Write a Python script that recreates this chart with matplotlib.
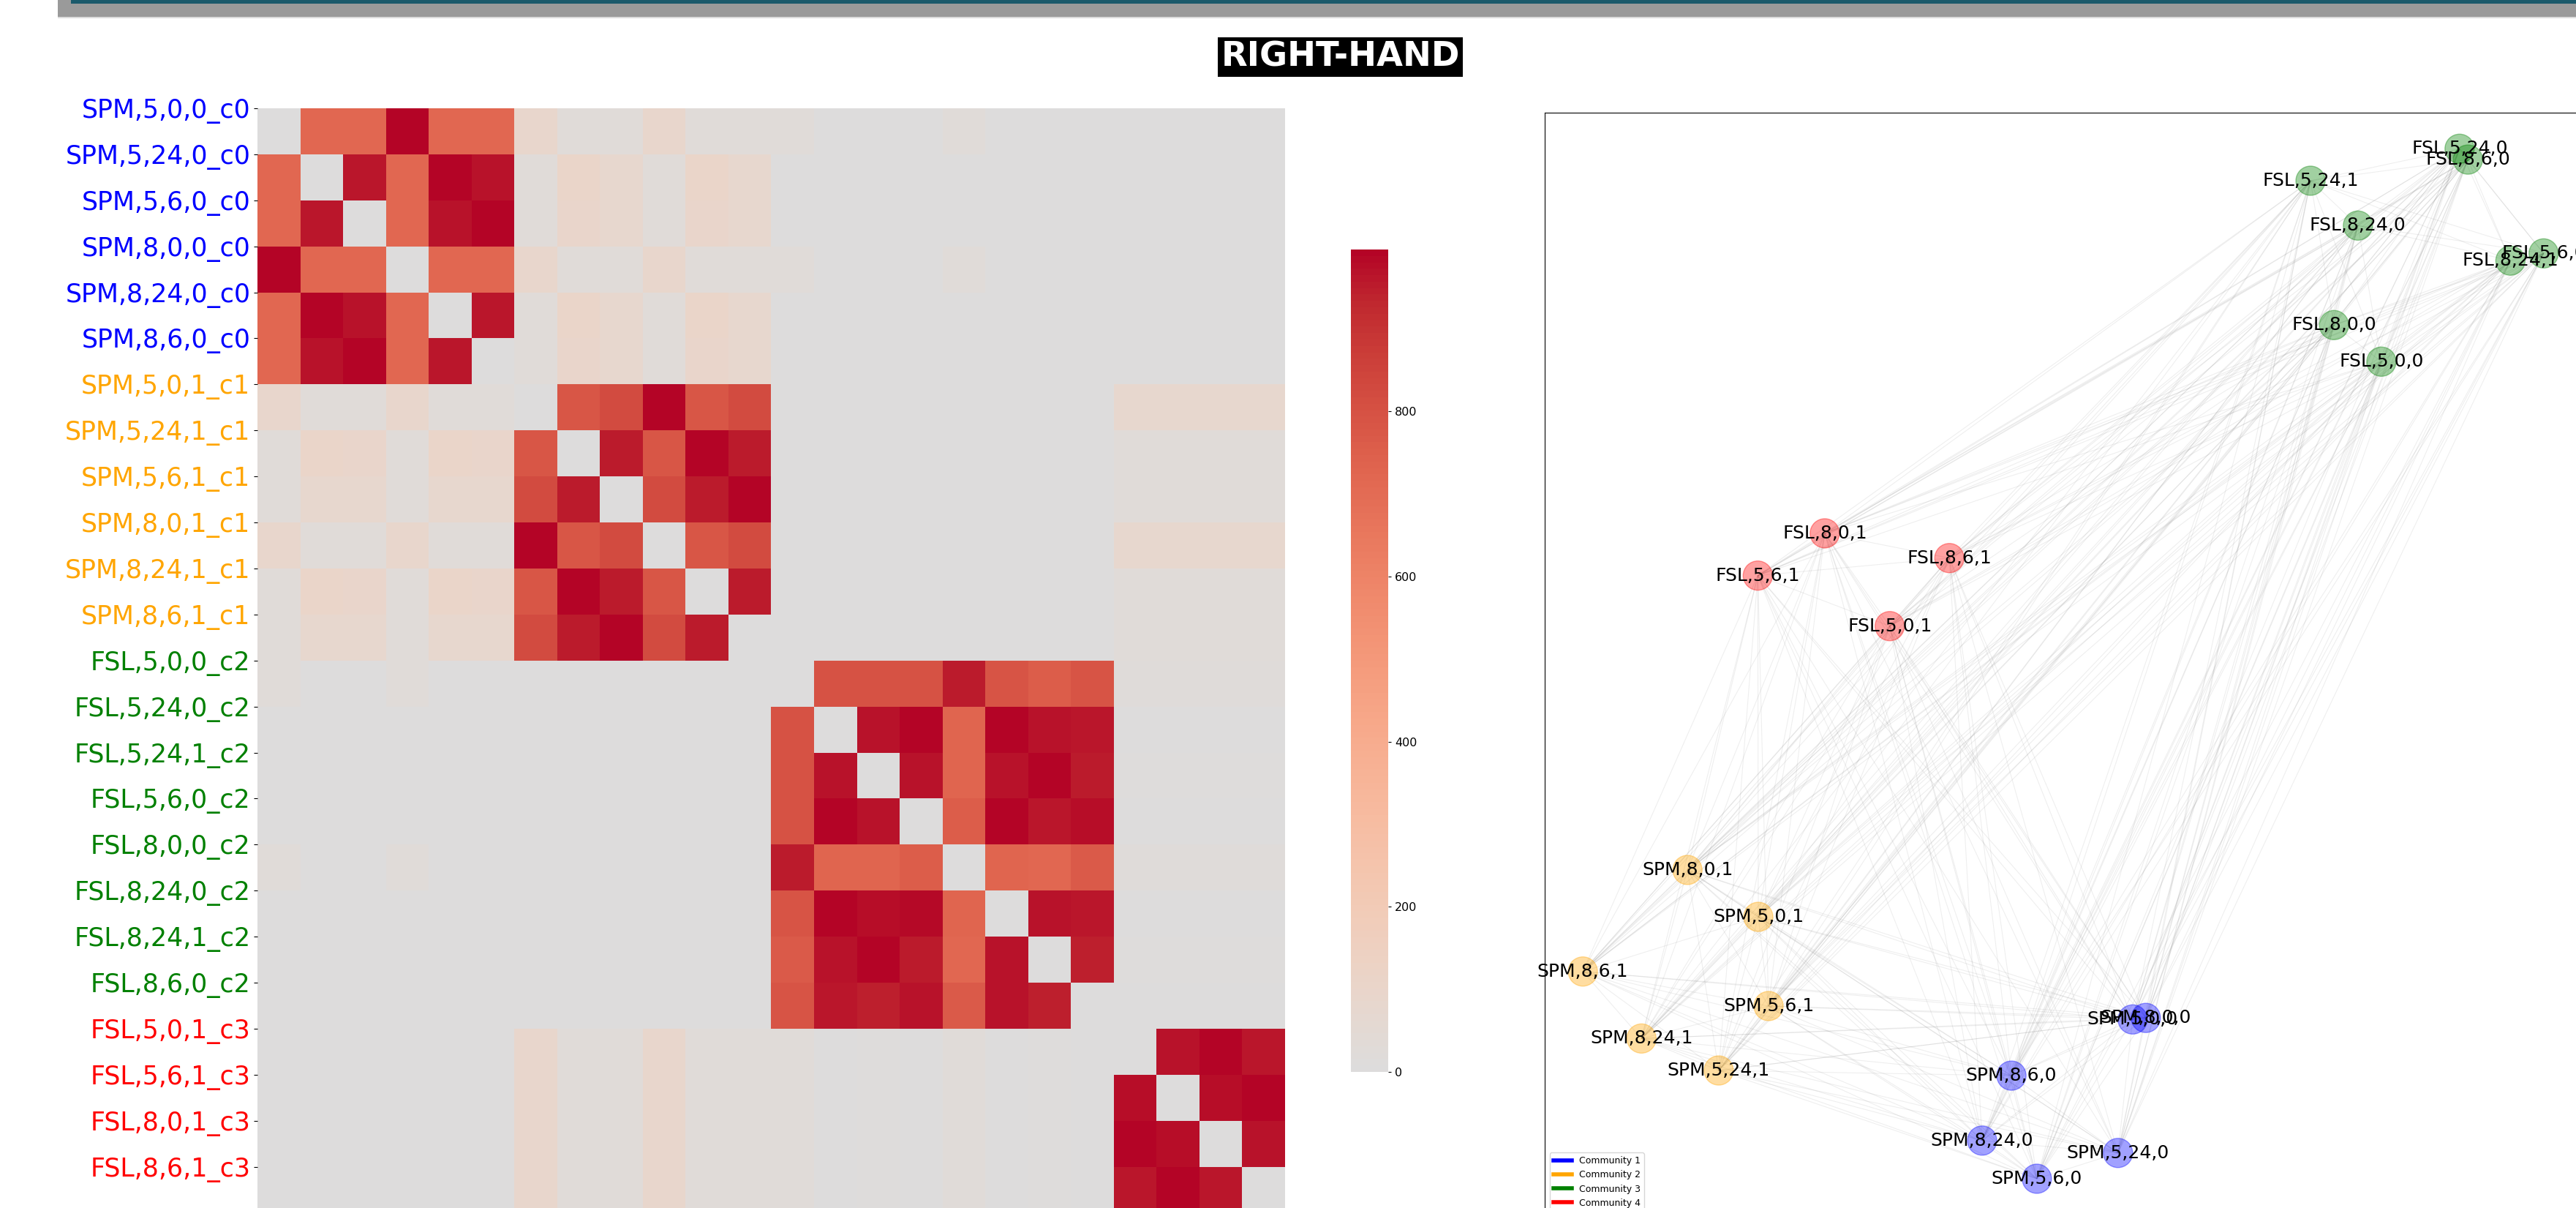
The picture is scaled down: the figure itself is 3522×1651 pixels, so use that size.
import numpy as np
import matplotlib
matplotlib.use("Agg")
import matplotlib.pyplot as plt
from matplotlib.colors import ListedColormap
from matplotlib.collections import LineCollection
from matplotlib.lines import Line2D
from matplotlib.patches import Rectangle
from itertools import combinations

W, H = 3523, 1651

# pipelines, in heatmap order
row_labels = [
    "SPM,5,0,0_c0", "SPM,5,24,0_c0", "SPM,5,6,0_c0", "SPM,8,0,0_c0", "SPM,8,24,0_c0", "SPM,8,6,0_c0",
    "SPM,5,0,1_c1", "SPM,5,24,1_c1", "SPM,5,6,1_c1", "SPM,8,0,1_c1", "SPM,8,24,1_c1", "SPM,8,6,1_c1",
    "FSL,5,0,0_c2", "FSL,5,24,0_c2", "FSL,5,24,1_c2", "FSL,5,6,0_c2", "FSL,8,0,0_c2", "FSL,8,24,0_c2",
    "FSL,8,24,1_c2", "FSL,8,6,0_c2",
    "FSL,5,0,1_c3", "FSL,5,6,1_c3", "FSL,8,0,1_c3", "FSL,8,6,1_c3",
]
row_community = [0] * 6 + [1] * 6 + [2] * 8 + [3] * 4
community_colors = ["blue", "orange", "green", "red"]
community_names = ["Community 1", "Community 2", "Community 3", "Community 4"]

# co-assignment counts (24 x 24)
counts = [
    [0, 720, 720, 996, 720, 720, 90, 30, 30, 90, 30, 30, 30, 0, 0, 0, 30, 0, 0, 0, 0, 0, 0, 0],
    [720, 0, 960, 720, 996, 970, 25, 105, 85, 25, 105, 85, 0, 0, 0, 0, 0, 0, 0, 0, 0, 0, 0, 0],
    [720, 960, 0, 720, 970, 996, 25, 95, 85, 25, 95, 85, 0, 0, 0, 0, 0, 0, 0, 0, 0, 0, 0, 0],
    [996, 720, 720, 0, 720, 720, 90, 30, 30, 90, 30, 30, 30, 0, 0, 0, 30, 0, 0, 0, 0, 0, 0, 0],
    [720, 996, 970, 720, 0, 960, 25, 105, 85, 25, 105, 85, 0, 0, 0, 0, 0, 0, 0, 0, 0, 0, 0, 0],
    [720, 970, 996, 720, 960, 0, 25, 95, 85, 25, 95, 85, 0, 0, 0, 0, 0, 0, 0, 0, 0, 0, 0, 0],
    [90, 25, 25, 90, 25, 25, 0, 780, 820, 996, 780, 820, 0, 0, 0, 0, 0, 0, 0, 0, 85, 85, 85, 85],
    [30, 105, 95, 30, 105, 95, 780, 0, 950, 780, 996, 950, 0, 0, 0, 0, 0, 0, 0, 0, 30, 30, 30, 30],
    [30, 85, 85, 30, 85, 85, 820, 950, 0, 820, 950, 996, 0, 0, 0, 0, 0, 0, 0, 0, 30, 30, 30, 30],
    [90, 25, 25, 90, 25, 25, 996, 780, 820, 0, 780, 820, 0, 0, 0, 0, 0, 0, 0, 0, 85, 85, 85, 85],
    [30, 105, 95, 30, 105, 95, 780, 996, 950, 780, 0, 950, 0, 0, 0, 0, 0, 0, 0, 0, 30, 30, 30, 30],
    [30, 85, 85, 30, 85, 85, 820, 950, 996, 820, 950, 0, 0, 0, 0, 0, 0, 0, 0, 0, 30, 30, 30, 30],
    [25, 0, 0, 25, 0, 0, 0, 0, 0, 0, 0, 0, 0, 800, 800, 800, 950, 790, 760, 790, 20, 20, 20, 20],
    [0, 0, 0, 0, 0, 0, 0, 0, 0, 0, 0, 0, 800, 0, 970, 996, 730, 996, 970, 960, 0, 0, 0, 0],
    [0, 0, 0, 0, 0, 0, 0, 0, 0, 0, 0, 0, 800, 970, 0, 970, 730, 970, 996, 950, 10, 10, 10, 10],
    [0, 0, 0, 0, 0, 0, 0, 0, 0, 0, 0, 0, 800, 996, 970, 0, 760, 996, 960, 980, 0, 0, 0, 0],
    [25, 0, 0, 25, 0, 0, 0, 0, 0, 0, 0, 0, 950, 730, 730, 760, 0, 730, 720, 770, 20, 20, 20, 20],
    [0, 0, 0, 0, 0, 0, 0, 0, 0, 0, 0, 0, 790, 996, 975, 985, 730, 0, 970, 960, 0, 0, 0, 0],
    [0, 0, 0, 0, 0, 0, 0, 0, 0, 0, 0, 0, 770, 970, 996, 955, 720, 970, 0, 945, 10, 10, 10, 10],
    [0, 0, 0, 0, 0, 0, 0, 0, 0, 0, 0, 0, 790, 960, 945, 970, 770, 965, 945, 0, 0, 0, 0, 0],
    [0, 0, 0, 0, 0, 0, 90, 30, 30, 90, 30, 30, 25, 0, 10, 0, 25, 0, 10, 0, 0, 970, 996, 960],
    [0, 0, 0, 0, 0, 0, 90, 30, 30, 90, 30, 30, 25, 0, 10, 0, 25, 0, 10, 0, 975, 0, 975, 996],
    [0, 0, 0, 0, 0, 0, 90, 30, 30, 90, 30, 30, 25, 0, 10, 0, 25, 0, 10, 0, 996, 975, 0, 965],
    [0, 0, 0, 0, 0, 0, 90, 30, 30, 90, 30, 30, 25, 0, 10, 0, 25, 0, 10, 0, 960, 996, 960, 0],
]
cbar_ticks = [0, 200, 400, 600, 800]

# network layout (same node order as the heatmap)
node_names = [lab.rsplit("_", 1)[0] for lab in row_labels]
node_x = [0.103, 0.073, -0.093, 0.130, -0.205, -0.145,
          -0.663, -0.744, -0.642, -0.808, -0.902, -1.022,
          0.612, 0.772, 0.467, 0.944, 0.515, 0.564, 0.876, 0.789,
          -0.394, -0.664, -0.527, -0.272]
node_y = [-0.659, -0.918, -0.968, -0.656, -0.894, -0.768,
          -0.460, -0.758, -0.633, -0.369, -0.696, -0.566,
          0.617, 1.030, 0.968, 0.827, 0.688, 0.881, 0.813, 1.009,
          0.104, 0.202, 0.284, 0.236]
edges = list(combinations(range(len(node_names)), 2))

fig = plt.figure(figsize=(W / 100, H / 100), dpi=100)

# page header bars
fig.add_artist(Rectangle((79 / W, 1 - 23 / H), 1, 23 / H, transform=fig.transFigure,
                         facecolor="#9a9a9a", edgecolor="none"))
fig.add_artist(Rectangle((79 / W, 1 - 25 / H), 1, 2 / H, transform=fig.transFigure,
                         facecolor="#dcdcdc", edgecolor="none"))
fig.add_artist(Rectangle((97 / W, 1 - 5 / H), 1, 5 / H, transform=fig.transFigure,
                         facecolor="#1b5a6b", edgecolor="none"))

fig.text(1832.5 / W, 1 - 78 / H, "RIGHT-HAND", ha="center", va="center", fontsize=33.5,
         fontweight="bold", color="white",
         bbox=dict(facecolor="black", edgecolor="none", pad=3.5))

# heatmap
cmap = ListedColormap(plt.get_cmap("coolwarm")(np.linspace(0.5, 1.0, 256)))
mat = np.array(counts)
ax = fig.add_axes([352 / W, 1 - 1657.6 / H, 1405 / W, 1509.6 / H])
mesh = ax.pcolormesh(mat, cmap=cmap, vmin=0, vmax=mat.max())
ax.set_xlim(0, mat.shape[1])
ax.set_ylim(mat.shape[0], 0)
ax.set_yticks(np.arange(len(row_labels)))
ax.set_yticklabels(row_labels, fontsize=25)
for tl, c in zip(ax.get_yticklabels(), row_community):
    tl.set_color(community_colors[c])
ax.set_xticks([])
for s in ax.spines.values():
    s.set_visible(False)

cax = fig.add_axes([1847 / W, 1 - 1465 / H, 51 / W, 1124 / H])
cbar = fig.colorbar(mesh, cax=cax)
cbar.outline.set_visible(False)
cbar.set_ticks(cbar_ticks)
cbar.ax.tick_params(labelsize=11.5, length=3)

# network
ax2 = fig.add_axes([2112 / W, 1 - 1704 / H, 1470 / W, 1550 / H])
segs = [[(node_x[a], node_y[a]), (node_x[b], node_y[b])] for a, b in edges]
ax2.add_collection(LineCollection(segs, colors="gray", alpha=0.13, linewidths=0.8, zorder=1))
node_cols = [community_colors[c] for c in row_community]
ax2.scatter(node_x, node_y, s=830, c=node_cols, alpha=0.37, linewidths=1,
            edgecolors=node_cols, zorder=2)
for name, x, y in zip(node_names, node_x, node_y):
    ax2.text(x, y, name, ha="center", va="center", fontsize=18, color="black", zorder=3)
ax2.set_xlim(-1.1, 1.1)
ax2.set_ylim(-1.1, 1.1)
ax2.set_xticks([])
ax2.set_yticks([])

handles = [Line2D([0], [0], color=c, lw=4) for c in community_colors]
fig.legend(handles, community_names, loc="upper left", fontsize=9,
           bbox_to_anchor=(2119 / W, 1 - 1575 / H), bbox_transform=fig.transFigure,
           borderaxespad=0)

fig.savefig("out.png", dpi=100)
